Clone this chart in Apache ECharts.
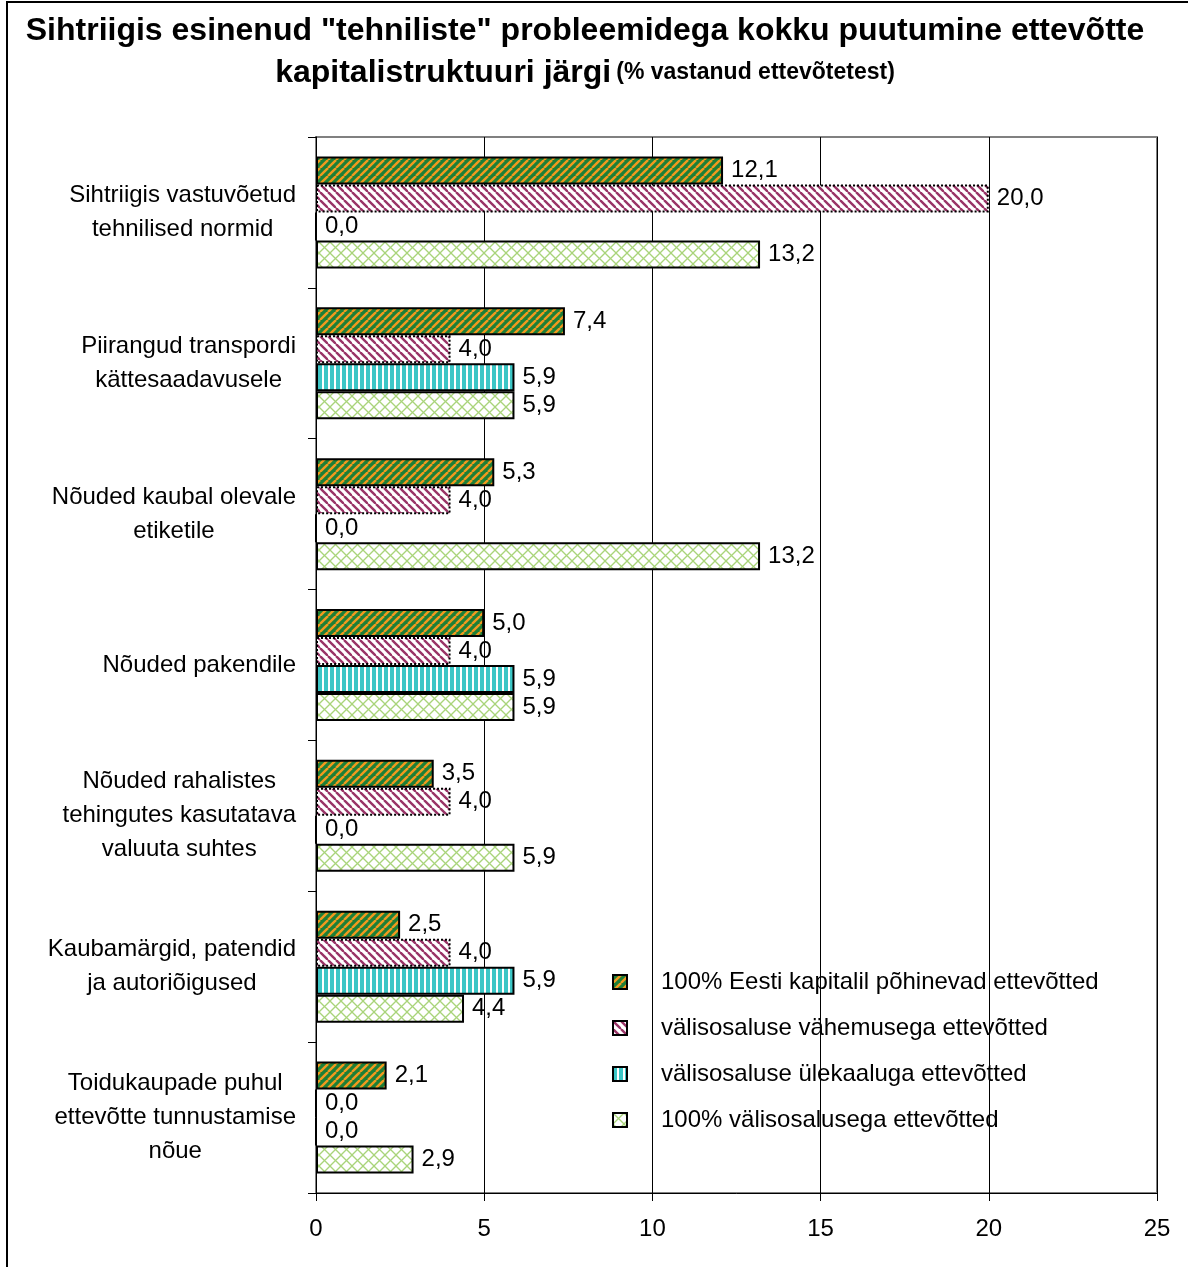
<!DOCTYPE html>
<html>
<head>
<meta charset="utf-8">
<script src="https://cdn.jsdelivr.net/npm/echarts@6/dist/echarts.min.js"></script>
<style>
  html, body { margin: 0; padding: 0; background: #fff; }
  #chart { width: 1188px; height: 1267px; }
</style>
</head>
<body>
<div id="chart"></div>
<script>
// kategooriad (ülevalt alla)
const categories = [
  'Sihtriigis vastuvõetud\ntehnilised normid',
  'Piirangud transpordi\nkättesaadavusele',
  'Nõuded kaubal olevale\netiketile',
  'Nõuded pakendile',
  'Nõuded rahalistes\ntehingutes kasutatava\nvaluuta suhtes',
  'Kaubamärgid, patendid\nja autoriõigused',
  'Toidukaupade puhul\nettevõtte tunnustamise\nnõue'
]
const seriesNames = [
  '100% Eesti kapitalil põhinevad ettevõtted',
  'välisosaluse vähemusega ettevõtted',
  'välisosaluse ülekaaluga ettevõtted',
  '100% välisosalusega ettevõtted'
]
const eestiValues = [12.1, 7.4, 5.3, 5.0, 3.5, 2.5, 2.1]
const vahemusValues = [20.0, 4.0, 4.0, 4.0, 4.0, 4.0, 0.0]
const ulekaalValues = [0.0, 5.9, 0.0, 5.9, 0.0, 5.9, 0.0]
const valisValues = [13.2, 5.9, 13.2, 5.9, 5.9, 4.4, 2.9]
const xTicks = [0, 25, 5]

const FONT = '"Liberation Sans", Arial, sans-serif'

/**
 * mustriga täide (canvas)
 */
function makePattern(w, h, draw) {
  const c = document.createElement('canvas')
  c.width = w
  c.height = h
  const ctx = c.getContext('2d')
  draw(ctx, w, h)
  return { image: c, repeat: 'repeat' }
}

function diag(ctx, s, dir) {
  for (let k = -s; k <= s; k += s) {
    ctx.beginPath()
    if (dir > 0) {
      ctx.moveTo(k, s)
      ctx.lineTo(k + s, 0)
    } else {
      ctx.moveTo(k, 0)
      ctx.lineTo(k + s, s)
    }
    ctx.stroke()
  }
}

const greenPattern = makePattern(8, 8, (ctx, w) => {
  ctx.fillStyle = '#1d7f37'
  ctx.fillRect(0, 0, w, w)
  ctx.strokeStyle = '#f29a1e'
  ctx.lineWidth = 2.4
  diag(ctx, w, 1)
})
const pinkPattern = makePattern(8, 8, (ctx, w) => {
  ctx.fillStyle = '#fff'
  ctx.fillRect(0, 0, w, w)
  ctx.strokeStyle = '#993366'
  ctx.lineWidth = 2.4
  diag(ctx, w, -1)
})
const cyanPattern = makePattern(6, 6, (ctx) => {
  ctx.fillStyle = '#fff'
  ctx.fillRect(0, 0, 6, 6)
  ctx.fillStyle = '#3cc6c6'
  ctx.fillRect(0, 0, 4, 6)
})
const crossPattern = makePattern(11, 11, (ctx, w) => {
  ctx.fillStyle = '#fff'
  ctx.fillRect(0, 0, w, w)
  ctx.strokeStyle = '#a9d47a'
  ctx.lineWidth = 1.3
  diag(ctx, w, 1)
  diag(ctx, w, -1)
})

const fmt = p => p.value.toFixed(1).replace('.', ',')

function barSeries(name, values, color, borderType) {
  return {
    name: name,
    type: 'bar',
    barWidth: 28,
    barGap: '0%',
    data: values,
    itemStyle: {
      color: color,
      borderColor: '#000',
      borderWidth: 2,
      borderType: borderType || 'solid'
    },
    label: {
      show: true,
      position: 'right',
      distance: 8,
      formatter: fmt,
      color: '#000',
      fontFamily: FONT,
      fontSize: 24
    },
    emphasis: { disabled: true }
  }
}

const chart = echarts.init(document.getElementById('chart'), null, { renderer: 'canvas' })

const option = {
  backgroundColor: '#fff',
  animation: false,
  title: {
    left: 580,
    top: 5,
    textAlign: 'center',
    text: '{a|Sihtriigis esinenud "tehniliste" probleemidega kokku puutumine ettevõtte}\n{a|kapitalistruktuuri järgi} {b|(% vastanud ettevõtetest)}',
    textStyle: {
      rich: {
        a: { fontFamily: FONT, fontSize: 32, fontWeight: 'bold', color: '#000', lineHeight: 42, align: 'center' },
        b: { fontFamily: FONT, fontSize: 23, fontWeight: 'bold', color: '#000', lineHeight: 42, align: 'center' }
      }
    }
  },
  graphic: [
    {
      type: 'rect',
      shape: { x: 7, y: 2, width: 1200, height: 1300 },
      style: { fill: null, stroke: '#000', lineWidth: 2 },
      silent: true
    }
  ],
  legend: {
    orient: 'vertical',
    left: 607,
    top: 965,
    itemWidth: 14,
    itemHeight: 14,
    itemGap: 22,
    icon: 'rect',
    selectedMode: false,
    data: seriesNames,
    textStyle: {
      fontFamily: FONT,
      fontSize: 24,
      color: '#000',
      padding: [0, 0, 0, 29]
    }
  },
  grid: {
    left: 316,
    right: 31,
    top: 137,
    bottom: 74,
    show: true,
    borderColor: '#808080',
    borderWidth: 2,
    containLabel: false
  },
  xAxis: {
    type: 'value',
    min: xTicks[0],
    max: xTicks[1],
    interval: xTicks[2],
    axisLine: { show: true, lineStyle: { color: '#000', width: 1 } },
    axisTick: { show: true, length: 8, lineStyle: { color: '#000' } },
    axisLabel: { fontFamily: FONT, fontSize: 24, color: '#000', margin: 24 },
    splitLine: { show: true, lineStyle: { color: '#000', width: 1 } }
  },
  yAxis: {
    type: 'category',
    inverse: true,
    data: categories,
    axisLine: { show: true, lineStyle: { color: '#000', width: 1 } },
    axisTick: { show: true, length: 8, lineStyle: { color: '#000' } },
    axisLabel: {
      margin: 20,
      align: 'right',
      formatter: v => v.split('\n').map(s => '{c|' + s + '}').join('\n'),
      rich: {
        c: { fontFamily: FONT, fontSize: 24, color: '#000', lineHeight: 34, align: 'center' }
      }
    },
    splitLine: { show: false }
  },
  series: [
    barSeries(seriesNames[0], eestiValues, greenPattern),
    barSeries(seriesNames[1], vahemusValues, pinkPattern, 'dotted'),
    barSeries(seriesNames[2], ulekaalValues, cyanPattern),
    barSeries(seriesNames[3], valisValues, crossPattern)
  ]
}

chart.setOption(option)
</script>
</body>
</html>
